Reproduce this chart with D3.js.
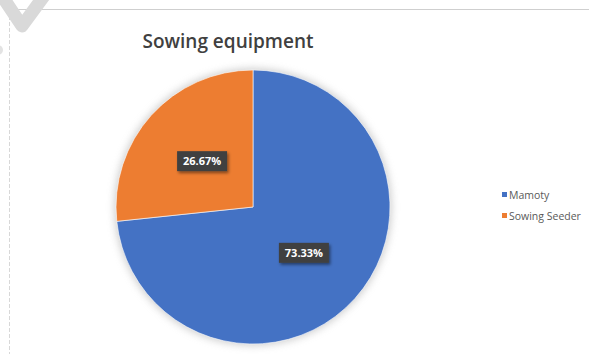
<!DOCTYPE html>
<html>
<head>
<meta charset="utf-8">
<script src="https://cdn.jsdelivr.net/npm/d3@7"></script>
<style>
  html, body { margin: 0; padding: 0; background: #fff; }
  svg { display: block; }
</style>
</head>
<body>
<svg id="chart" width="589" height="354"></svg>
<script>
// Sowing equipment shares
const categories = ["Mamoty", "Sowing Seeder"];
const shares = [73.33, 26.67];
const labels = ["73.33%", "26.67%"];
const colors = ["#4472C4", "#ED7D31"];

const W = 589, H = 354;
const cx = 253, cy = 207, R = 137;

const svg = d3.select("#chart");
const defs = svg.append("defs");

// soft grey halo around the pie
const halo = defs.append("filter").attr("id", "halo")
  .attr("x", "-20%").attr("y", "-20%").attr("width", "140%").attr("height", "140%");
halo.append("feGaussianBlur").attr("stdDeviation", 4);

// shadow behind the value boxes
const boxShadow = defs.append("filter").attr("id", "boxShadow")
  .attr("x", "-30%").attr("y", "-50%").attr("width", "160%").attr("height", "200%");
boxShadow.append("feDropShadow").attr("dx", 1.5).attr("dy", 2)
  .attr("stdDeviation", 1.5).attr("flood-color", "#000").attr("flood-opacity", 0.45);

// page frame lines and faint corner mark
svg.append("line").attr("x1", 10).attr("x2", W).attr("y1", 9.5).attr("y2", 9.5)
  .attr("stroke", "#cfcfcf").attr("stroke-width", 1);
svg.append("line").attr("x1", 9.5).attr("x2", 9.5).attr("y1", 10).attr("y2", H)
  .attr("stroke", "#d8d8d8").attr("stroke-width", 1).attr("stroke-dasharray", "4,2");
svg.append("path").attr("d", "M2,-4 L22,26 L44,-4")
  .attr("fill", "none").attr("stroke", "#d9d9d9").attr("stroke-width", 13)
  .attr("stroke-linejoin", "round").attr("stroke-linecap", "round");
svg.append("circle").attr("cx", -2).attr("cy", 50).attr("r", 5).attr("fill", "#e3e3e3");

// title
svg.append("text")
  .attr("x", 228).attr("y", 48)
  .attr("text-anchor", "middle")
  .attr("font-family", "'Open Sans', sans-serif")
  .attr("font-weight", 600)
  .attr("font-size", 19)
  .attr("fill", "#404040")
  .text("Sowing equipment");

// pie
const g = svg.append("g").attr("transform", `translate(${cx},${cy})`);
g.append("circle").attr("r", R + 1).attr("fill", "#9a9a9a").attr("opacity", 0.55)
  .attr("filter", "url(#halo)");

const pie = d3.pie().sort(null).value(d => d.value);
const data = categories.map((c, i) => ({ name: c, value: shares[i], label: labels[i], color: colors[i] }));
const arcs = pie(data);
const arc = d3.arc().innerRadius(0).outerRadius(R);
const labelArc = d3.arc().innerRadius(R * 0.5).outerRadius(R * 0.5);

g.selectAll("path.slice").data(arcs).enter().append("path")
  .attr("class", "slice")
  .attr("d", arc)
  .attr("fill", d => d.data.color)
  .attr("stroke", "#fff").attr("stroke-width", 0.6);

const lbl = g.selectAll("g.lbl").data(arcs).enter().append("g")
  .attr("class", "lbl")
  .attr("transform", d => {
    const [x, y] = labelArc.centroid(d);
    return `translate(${x},${y})`;
  });
lbl.append("rect")
  .attr("x", -25).attr("y", -10).attr("width", 50).attr("height", 20)
  .attr("fill", "#404040").attr("filter", "url(#boxShadow)");
lbl.append("text")
  .attr("text-anchor", "middle").attr("dy", "0.36em")
  .attr("font-family", "'Open Sans', sans-serif")
  .attr("font-weight", 700).attr("font-size", 11)
  .attr("fill", "#fff")
  .text(d => d.data.label);

// legend
const legend = svg.append("g").attr("transform", "translate(502,195)");
const items = legend.selectAll("g").data(data).enter().append("g")
  .attr("transform", (d, i) => `translate(0,${i * 21})`);
items.append("rect").attr("x", 0).attr("y", -3).attr("width", 5).attr("height", 5)
  .attr("fill", d => d.color);
items.append("text").attr("x", 7).attr("y", 0).attr("dy", "0.35em")
  .attr("font-family", "'Open Sans', sans-serif").attr("font-size", 10.5)
  .attr("fill", "#595959")
  .text(d => d.name);
</script>
</body>
</html>
